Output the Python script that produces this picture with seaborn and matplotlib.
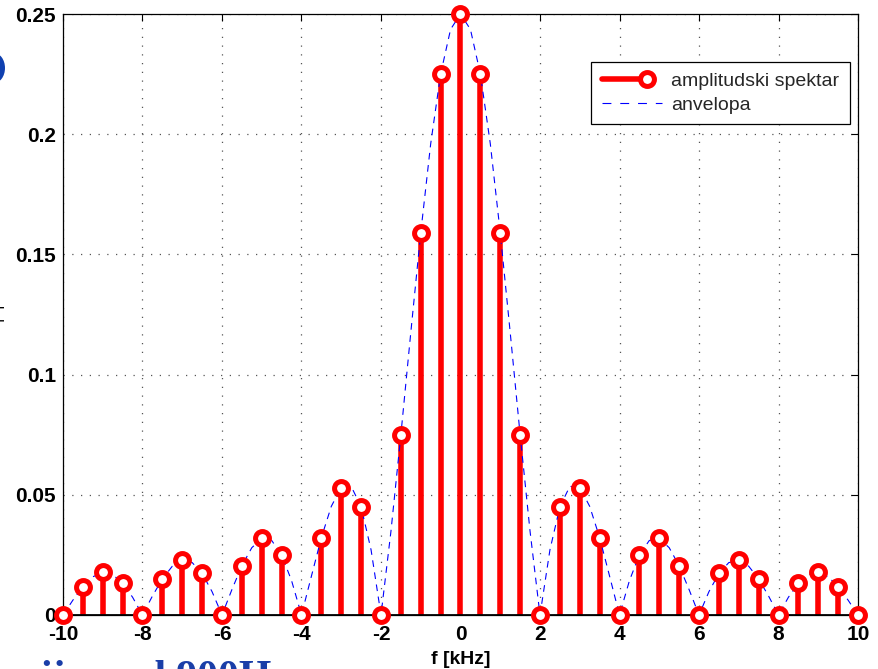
import numpy as np
import pandas as pd
import matplotlib
matplotlib.use("Agg")
import matplotlib.pyplot as plt
import seaborn as sns
from matplotlib.lines import Line2D
from matplotlib.legend_handler import HandlerBase
from matplotlib.patches import Ellipse

# ---- data ----
freq_khz = [-10.0, -9.5, -9.0, -8.5, -8.0, -7.5, -7.0, -6.5, -6.0, -5.5, -5.0,
            -4.5, -4.0, -3.5, -3.0, -2.5, -2.0, -1.5, -1.0, -0.5, 0.0,
            0.5, 1.0, 1.5, 2.0, 2.5, 3.0, 3.5, 4.0, 4.5, 5.0,
            5.5, 6.0, 6.5, 7.0, 7.5, 8.0, 8.5, 9.0, 9.5, 10.0]
amp_half = [0.225, 0.159, 0.075, 0.0, 0.045, 0.053, 0.032, 0.0, 0.025, 0.032,
            0.0205, 0.0, 0.0173, 0.0227, 0.015, 0.0, 0.0132, 0.0177, 0.0118, 0.0]
amplitude = amp_half[::-1] + [0.25] + amp_half

env_f = [x / 4 for x in range(-40, 41)]
env_half = [0.2436, 0.225, 0.196, 0.159, 0.1176, 0.075, 0.0348, 0.0,
            0.0271, 0.045, 0.0535, 0.0531, 0.0452, 0.0322, 0.0162, 0.0,
            0.0143, 0.025, 0.031, 0.0318, 0.028, 0.0205, 0.0106, 0.0,
            0.0097, 0.0173, 0.0218, 0.0227, 0.0203, 0.015, 0.0079, 0.0,
            0.0074, 0.0132, 0.0168, 0.0177, 0.0159, 0.0118, 0.0062, 0.0]
env_a = env_half[::-1] + [0.25] + env_half

x_ticks = [-10, -8, -6, -4, -2, 0, 2, 4, 6, 8, 10]
y_ticks = [0, 0.05, 0.1, 0.15, 0.2, 0.25]
y_tick_labels = ["0", "0.05", "0.1", "0.15", "0.2", "0.25"]

spec_df = pd.DataFrame({"f": freq_khz, "a": amplitude})
env_df = pd.DataFrame({"f": env_f, "a": env_a})

# ---- styling ----
sns.set_theme(style="white")
plt.rcParams["font.family"] = ["Liberation Sans", "DejaVu Sans"]

fig = plt.figure(figsize=(8.79, 6.69), dpi=100)
ax = fig.add_axes([63 / 879, 1 - 615 / 669, (858 - 63) / 879, (615 - 14) / 669])

RED = (1, 0, 0)
BLUE = (0, 0, 1)
STEM_LW = 4.0
MS = 10
MEW = 3.6

# stems
ax.vlines(spec_df["f"], 0, spec_df["a"], color=RED, lw=STEM_LW, zorder=3)
# envelope
sns.lineplot(data=env_df, x="f", y="a", ax=ax, color=BLUE, lw=0.8,
             linestyle=(0, (6, 5)), zorder=4, legend=False)
# markers
ax.plot(spec_df["f"], spec_df["a"], linestyle="none", marker="o", ms=MS,
        mfc="white", mec=RED, mew=MEW, zorder=5, clip_on=False)
# baseline
ax.axhline(0, color="black", lw=2.0, zorder=4)

ax.set_xlim(-10, 10)
ax.set_ylim(0, 0.25)
ax.set_xticks(x_ticks)
ax.set_xticklabels([str(t) for t in x_ticks])
ax.set_yticks(y_ticks)
ax.set_yticklabels(y_tick_labels)
ax.tick_params(direction="in", length=5, width=0.8, color="black",
               top=True, right=True, labelsize=15, labelcolor="black")
ax.tick_params(axis="x", pad=7)
ax.tick_params(axis="y", pad=5)
for lab in ax.get_xticklabels() + ax.get_yticklabels():
    lab.set_fontweight("bold")
ax.grid(True, color="#555555", linestyle=(0, (1, 6)), lw=0.9)
for s in ax.spines.values():
    s.set_color("black")
    s.set_linewidth(0.9)
ax.set_xlabel("f [kHz]", fontsize=14, fontweight="bold", labelpad=5, color="black")
ax.set_ylabel("")


class EndMarkerHandler(HandlerBase):
    def create_artists(self, legend, orig_handle, xdescent, ydescent,
                       width, height, fontsize, trans):
        x0 = -xdescent
        xm = x0 + 0.75 * width
        y = (height - ydescent) / 2
        line = Line2D([x0, xm], [y, y], color=RED, lw=STEM_LW, transform=trans)
        mk = Line2D([xm], [y], linestyle="none", marker="o", ms=MS,
                    mfc="white", mec=RED, mew=MEW, transform=trans)
        return [line, mk]


h_spec = Line2D([0], [0], color=RED, lw=STEM_LW, marker="o")
h_env = Line2D([0], [0], color=BLUE, lw=0.8, linestyle=(0, (8, 8)))
leg = ax.legend([h_spec, h_env], ["amplitudski spektar", "anvelopa"],
                loc="upper right", bbox_to_anchor=(850 / 879, 1 - 62 / 669),
                bbox_transform=fig.transFigure, borderaxespad=0,
                fancybox=False, framealpha=1, edgecolor="black",
                fontsize=14, handlelength=3.1, handletextpad=0.45,
                borderpad=0.55, labelspacing=0.3, numpoints=1,
                handler_map={h_spec: EndMarkerHandler()})
leg.get_frame().set_linewidth(0.9)
leg.set_zorder(10)

# background artifacts from the original slide (cropped)
fig.patches.append(Ellipse((-6 / 879, 1 - 68 / 669), 22 / 879, 30 / 669,
                           transform=fig.transFigure, facecolor="#1040b0",
                           edgecolor="none"))
fig.text(40 / 879, -20 / 669, "ija", transform=fig.transFigure,
         fontsize=30, fontweight="bold", family="Liberation Serif",
         color="#1a3ea8", ha="left", va="baseline")
fig.text(122 / 879, -20 / 669, "od 900Hz", transform=fig.transFigure,
         fontsize=30, fontweight="bold", family="Liberation Serif",
         color="#1a3ea8", ha="left", va="baseline")
fig.text(4 / 879, 1 - 312 / 669, "|=|", rotation=90, fontsize=12,
         ha="right", va="center", color="black")

fig.savefig("out.png", dpi=100)
